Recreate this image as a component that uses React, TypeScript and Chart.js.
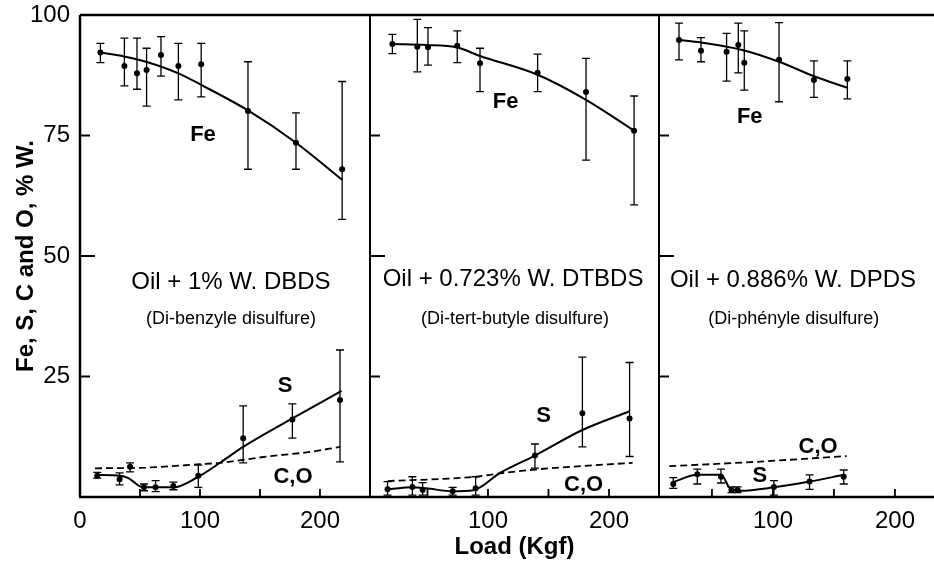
import React, { useEffect, useRef } from "react";
import { Chart, registerables } from "chart.js";

Chart.register(...registerables);

const FONT = '"Liberation Sans", Arial, Helvetica, sans-serif';

// ---------- axis ranges / ticks ----------
const yTickValues = [25, 50, 75, 100];
const yInnerTicks = [25, 50, 75];
const xInnerTicks = [50, 100, 150, 200];
const x1TickValues = [0, 100, 200];
const x2TickValues = [100, 200];
const x3TickValues = [100, 200];
const panelXMin = [0, 2.5, 6.6];
const panelXMax = [241.7, 241.3, 232];
const panelWeights = [290, 289, 275];

// ---------- Panel 1 : Oil + 1% W. DBDS ----------
const p1FeX = [17, 37, 47.5, 55.5, 67.5, 82, 101, 140, 180, 218.5];
const p1FeY = [92.2, 89.4, 87.9, 88.6, 91.7, 89.4, 89.8, 80.1, 73.5, 68.0];
const p1FeHi = [94.1, 95.2, 95.2, 93.1, 95.5, 94.1, 94.1, 90.3, 79.7, 86.2];
const p1FeLo = [90.1, 85.3, 84.6, 81.1, 87.3, 82.4, 83.0, 68.0, 68.0, 57.6];
const p1FeFitX = [17, 37, 55, 82, 101, 140, 180, 218.5];
const p1FeFitY = [92.2, 91.4, 90.3, 87.9, 85.5, 80.2, 73.5, 65.8];

const p1SX = [14.4, 33, 41.7, 53.3, 63, 77.8, 98.6, 136, 177, 216.7];
const p1SY = [4.4, 3.7, 6.3, 2.0, 2.0, 2.3, 4.4, 12.2, 16.1, 20.1];
const p1SHi = [5.1, 5.0, 7.1, 2.7, 3.4, 3.1, 6.6, 18.9, 19.3, 30.5];
const p1SLo = [3.9, 2.5, 5.2, 1.3, 1.1, 1.5, 2.0, 7.1, 12.2, 7.3];
const p1SFitX = [12.5, 33.3, 40.3, 52.8, 77.8, 98.6, 116.7, 136, 177, 218];
const p1SFitY = [4.6, 4.4, 3.9, 2.0, 2.0, 4.2, 7.1, 10.4, 16.3, 22.0];

const p1COX = [12.5, 55, 100, 117, 156, 190, 217];
const p1COY = [5.95, 6.1, 6.8, 7.1, 8.4, 9.3, 10.4];

// ---------- Panel 2 : Oil + 0.723% W. DTBDS ----------
const p2FeX = [21, 41.6, 50.4, 74.6, 93.4, 141, 181, 220.7];
const p2FeY = [94.0, 93.4, 93.3, 93.6, 90.0, 88.0, 84.0, 76.0];
const p2FeHi = [96.0, 99.1, 97.4, 96.7, 93.1, 91.9, 91.0, 83.2];
const p2FeLo = [92.0, 88.2, 89.6, 90.1, 84.1, 84.1, 69.9, 60.6];
const p2FeFitX = [21, 49, 74, 93.4, 141, 181, 220.7];
const p2FeFitY = [94.0, 93.8, 93.3, 91.5, 87.6, 82.4, 76.0];

const p2SX = [17, 37.5, 46, 70.8, 89.8, 138.8, 178, 217];
const p2SY = [1.6, 2.1, 1.45, 1.2, 1.8, 8.6, 17.4, 16.3];
const p2SHi = [3.2, 4.2, 3.0, 2.0, 4.2, 11.0, 29.0, 27.9];
const p2SLo = [0.4, 0.4, 0.4, 0.4, 0.4, 6.0, 10.4, 8.4];
const p2SFitX = [17, 37.5, 48.8, 70.8, 87.9, 110, 138.8, 178, 217];
const p2SFitY = [1.6, 2.0, 1.8, 1.2, 1.4, 5.0, 8.6, 13.9, 17.8];

const p2COX = [17, 89.8, 110, 138.8, 219.5];
const p2COY = [3.3, 4.2, 4.9, 5.7, 7.1];

// ---------- Panel 3 : Oil + 0.886% W. DPDS ----------
const p3FeX = [23, 41, 62, 71.6, 76.5, 105, 133.6, 161];
const p3FeY = [94.8, 92.6, 92.4, 93.8, 90.1, 90.7, 86.5, 86.7];
const p3FeHi = [98.3, 95.3, 96.2, 98.3, 96.7, 98.4, 90.5, 90.5];
const p3FeLo = [90.7, 90.3, 86.3, 88.0, 84.4, 82.0, 82.9, 82.6];
const p3FeFitX = [23, 41, 75.7, 105, 133.6, 161];
const p3FeFitY = [94.8, 94.3, 92.7, 90.3, 87.3, 84.9];

const p3SX = [18.3, 38, 57.4, 66, 71, 100.8, 130, 158];
const p3SY = [2.7, 4.7, 4.2, 1.45, 1.45, 2.1, 3.2, 4.2];
const p3SHi = [4.0, 5.8, 5.8, 2.1, 2.1, 3.4, 4.6, 5.6];
const p3SLo = [1.8, 2.7, 2.9, 0.9, 0.9, 0.4, 1.6, 2.7];
const p3SFitX = [18.3, 38, 57.4, 64.8, 73, 100.8, 130, 158];
const p3SFitY = [3.1, 4.6, 4.6, 1.8, 1.3, 2.0, 3.2, 4.6];

const p3COX = [15, 86.6, 160.4];
const p3COY = [6.4, 7.3, 8.5];

// ---------- texts ----------
const panelTitles = ["Oil + 1% W. DBDS", "Oil + 0.723% W. DTBDS", "Oil + 0.886% W. DPDS"];
const panelSubtitles = ["(Di-benzyle disulfure)", "(Di-tert-butyle disulfure)", "(Di-phényle disulfure)"];
const speciesLabels = ["Fe", "S", "C,O"];
const yTitle = "Fe, S, C and O, % W.";
const xTitle = "Load (Kgf)";

// label anchors in data units: [titleX, titleY, subX, subY, FeX, FeY, SX, SY, COX, COY]
const p1LabelAt = [125.8, 44.6, 125.8, 37.0, 102.5, 75.2, 171, 23.0, 177.5, 4.1];
const p2LabelAt = [120.7, 45.2, 122.3, 37.0, 114.5, 82.0, 146, 16.8, 179, 2.6];
const p3LabelAt = [116.4, 45.0, 117, 37.0, 81, 78.8, 89.3, 4.4, 137, 10.4];

const pts = (xs: number[], ys: number[]) => xs.map((x, i) => ({ x, y: ys[i] }));

const panels = [
  { fe: [p1FeX, p1FeY, p1FeHi, p1FeLo], feFit: [p1FeFitX, p1FeFitY], s: [p1SX, p1SY, p1SHi, p1SLo], sFit: [p1SFitX, p1SFitY], co: [p1COX, p1COY], labels: p1LabelAt, ticks: x1TickValues },
  { fe: [p2FeX, p2FeY, p2FeHi, p2FeLo], feFit: [p2FeFitX, p2FeFitY], s: [p2SX, p2SY, p2SHi, p2SLo], sFit: [p2SFitX, p2SFitY], co: [p2COX, p2COY], labels: p2LabelAt, ticks: x2TickValues },
  { fe: [p3FeX, p3FeY, p3FeHi, p3FeLo], feFit: [p3FeFitX, p3FeFitY], s: [p3SX, p3SY, p3SHi, p3SLo], sFit: [p3SFitX, p3SFitY], co: [p3COX, p3COY], labels: p3LabelAt, ticks: x3TickValues },
];

const INK = "#000";

function buildDatasets() {
  const ds: any[] = [];
  panels.forEach((p, i) => {
    const xAxisID = `x${i + 1}`;
    const lineBase = { showLine: true, pointRadius: 0, pointHoverRadius: 0, borderColor: INK, borderWidth: 2, cubicInterpolationMode: "monotone", xAxisID, yAxisID: "y", fill: false };
    ds.push({ ...lineBase, label: `Fe fit ${i + 1}`, data: pts(p.feFit[0], p.feFit[1]) });
    ds.push({ ...lineBase, label: `S fit ${i + 1}`, data: pts(p.sFit[0], p.sFit[1]) });
    ds.push({ ...lineBase, label: `C,O ${i + 1}`, borderDash: [7, 4], borderWidth: 1.8, data: pts(p.co[0], p.co[1]) });
    const pointBase = { showLine: false, pointRadius: 3, pointBackgroundColor: INK, pointBorderColor: INK, pointBorderWidth: 0, xAxisID, yAxisID: "y" };
    ds.push({ ...pointBase, label: `Fe ${i + 1}`, data: pts(p.fe[0], p.fe[1]), errHi: p.fe[2], errLo: p.fe[3] });
    ds.push({ ...pointBase, label: `S ${i + 1}`, data: pts(p.s[0], p.s[1]), errHi: p.s[2], errLo: p.s[3] });
  });
  return ds;
}

const errorBarPlugin = {
  id: "errorBars",
  afterDatasetsDraw(chart: any) {
    const ctx = chart.ctx;
    const yScale = chart.scales.y;
    chart.data.datasets.forEach((ds: any, i: number) => {
      if (!ds.errHi) return;
      const meta = chart.getDatasetMeta(i);
      const xScale = chart.scales[meta.xAxisID];
      ctx.save();
      ctx.strokeStyle = INK;
      ctx.lineWidth = 1.3;
      ds.data.forEach((p: any, j: number) => {
        const x = xScale.getPixelForValue(p.x);
        const yt = yScale.getPixelForValue(ds.errHi[j]);
        const yb = yScale.getPixelForValue(ds.errLo[j]);
        ctx.beginPath();
        ctx.moveTo(x, yt);
        ctx.lineTo(x, yb);
        ctx.moveTo(x - 4, yt);
        ctx.lineTo(x + 4, yt);
        ctx.moveTo(x - 4, yb);
        ctx.lineTo(x + 4, yb);
        ctx.stroke();
      });
      ctx.restore();
    });
  },
};

const framePlugin = {
  id: "frame",
  afterDraw(chart: any) {
    const ctx = chart.ctx;
    const a = chart.chartArea;
    const y = chart.scales.y;
    ctx.save();
    ctx.strokeStyle = INK;
    ctx.lineCap = "butt";
    ctx.lineWidth = 2.5;
    ctx.beginPath();
    ctx.moveTo(a.left, a.top);
    ctx.lineTo(a.right, a.top);
    ctx.moveTo(a.left, a.top);
    ctx.lineTo(a.left, a.bottom);
    ctx.moveTo(a.left - 1, a.bottom);
    ctx.lineTo(a.right, a.bottom);
    ctx.stroke();
    panels.forEach((p, i) => {
      const xs = chart.scales[`x${i + 1}`];
      ctx.lineWidth = 2;
      if (i > 0) {
        ctx.beginPath();
        ctx.moveTo(xs.left, a.top);
        ctx.lineTo(xs.left, a.bottom);
        ctx.stroke();
      }
      ctx.lineWidth = 1.8;
      ctx.beginPath();
      yInnerTicks.forEach((v) => {
        const py = y.getPixelForValue(v);
        ctx.moveTo(xs.left, py);
        ctx.lineTo(xs.left + (v === 50 ? 15 : 10), py);
      });
      xInnerTicks.forEach((v) => {
        if (v <= xs.min || v >= xs.max) return;
        const px = xs.getPixelForValue(v);
        ctx.moveTo(px, a.bottom);
        ctx.lineTo(px, a.bottom - 8);
      });
      ctx.stroke();
    });
    ctx.restore();
  },
};

const labelPlugin = {
  id: "panelLabels",
  afterDraw(chart: any) {
    const ctx = chart.ctx;
    const y = chart.scales.y;
    ctx.save();
    ctx.fillStyle = INK;
    ctx.textAlign = "center";
    ctx.textBaseline = "middle";
    panels.forEach((p, i) => {
      const xs = chart.scales[`x${i + 1}`];
      const L = p.labels;
      const at = (k: number) => [xs.getPixelForValue(L[k]), y.getPixelForValue(L[k + 1])];
      let [tx, ty] = at(0);
      ctx.font = `24px ${FONT}`;
      ctx.fillText(panelTitles[i], tx, ty);
      [tx, ty] = at(2);
      ctx.font = `18px ${FONT}`;
      ctx.fillText(panelSubtitles[i], tx, ty);
      ctx.font = `bold 22px ${FONT}`;
      speciesLabels.forEach((s, k) => {
        const [sx, sy] = at(4 + k * 2);
        ctx.fillText(s, sx, sy);
      });
    });
    ctx.restore();
  },
};

export default function App() {
  const canvasRef = useRef<HTMLCanvasElement | null>(null);

  useEffect(() => {
    if (!canvasRef.current) return;
    const tickFont = { family: FONT, size: 24 };
    const xScale = (i: number) => ({
      type: "linear",
      position: "bottom",
      stack: "panels",
      stackWeight: panelWeights[i],
      min: panelXMin[i],
      max: panelXMax[i],
      afterBuildTicks: (s: any) => {
        s.ticks = panels[i].ticks.map((v) => ({ value: v }));
      },
      afterFit: (s: any) => {
        s.height = 65;
        s.paddingLeft = 0;
        s.paddingRight = 0;
        s.paddingTop = 0;
        s.paddingBottom = 0;
      },
      grid: { display: false, drawTicks: false },
      border: { display: false },
      ticks: { font: tickFont, color: INK, padding: 10, maxRotation: 0, autoSkip: false, callback: (v: any) => String(v) },
      title: i === 1
        ? { display: true, text: xTitle, color: INK, font: { family: FONT, size: 24, weight: "bold" }, padding: { top: 0, bottom: 0 } }
        : { display: false },
    });

    const chart = new Chart(canvasRef.current, {
      type: "scatter",
      data: { datasets: buildDatasets() },
      options: {
        responsive: false,
        animation: false,
        devicePixelRatio: 1,
        layout: { autoPadding: false, padding: { top: 15, left: 0, right: 0, bottom: 0 } },
        plugins: { legend: { display: false }, tooltip: { enabled: false } },
        elements: { line: { tension: 0 } },
        scales: {
          x1: xScale(0) as any,
          x2: xScale(1) as any,
          x3: xScale(2) as any,
          y: {
            type: "linear",
            position: "left",
            min: 0,
            max: 100,
            afterBuildTicks: (s: any) => {
              s.ticks = yTickValues.map((v) => ({ value: v }));
            },
            afterFit: (s: any) => {
              s.width = 80;
              s.paddingTop = 0;
              s.paddingBottom = 0;
              s.paddingLeft = 0;
              s.paddingRight = 0;
            },
            grid: { display: false, drawTicks: false },
            border: { display: false },
            ticks: { font: tickFont, color: INK, padding: 10, callback: (v: any) => String(v) },
            title: { display: true, text: yTitle, color: INK, font: { family: FONT, size: 24, weight: "bold" }, padding: { top: 12, bottom: 0 } },
          },
        },
      },
      plugins: [errorBarPlugin, framePlugin, labelPlugin],
    } as any);
    return () => chart.destroy();
  }, []);

  return (
    <div style={{ position: "absolute", left: 0, top: 0, width: 934, height: 562, background: "#fff" }}>
      <canvas ref={canvasRef} width={934} height={562} style={{ display: "block", width: 934, height: 562 }} />
    </div>
  );
}
